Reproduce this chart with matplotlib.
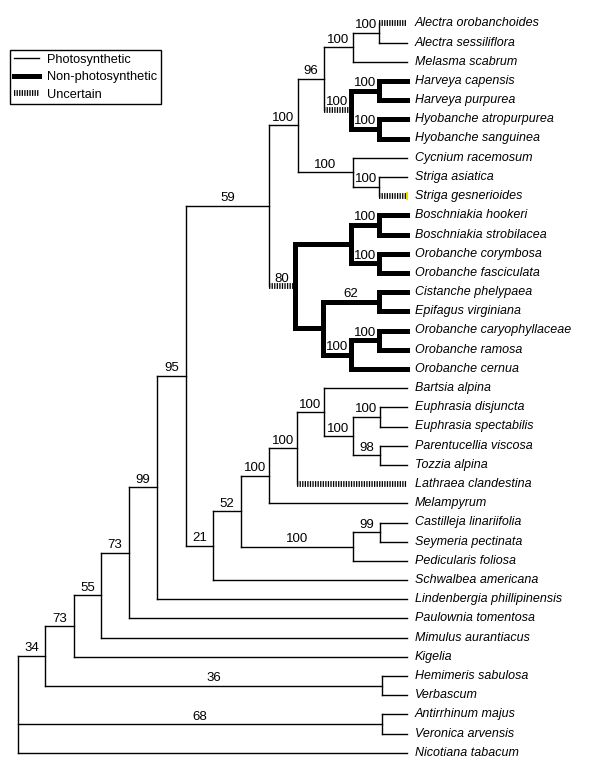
import matplotlib
matplotlib.use("Agg")
import matplotlib.pyplot as plt
from matplotlib.lines import Line2D

plt.rcParams['font.family'] = ['Liberation Sans', 'DejaVu Sans']

# leaves, top to bottom, with the state of the branch leading to each
# p = photosynthetic, n = non-photosynthetic, u = uncertain
leaves = ['Alectra orobanchoides', 'Alectra sessiliflora', 'Melasma scabrum',
          'Harveya capensis', 'Harveya purpurea', 'Hyobanche atropurpurea',
          'Hyobanche sanguinea', 'Cycnium racemosum', 'Striga asiatica',
          'Striga gesnerioides', 'Boschniakia hookeri', 'Boschniakia strobilacea',
          'Orobanche corymbosa', 'Orobanche fasciculata', 'Cistanche phelypaea',
          'Epifagus virginiana', 'Orobanche caryophyllaceae', 'Orobanche ramosa',
          'Orobanche cernua', 'Bartsia alpina', 'Euphrasia disjuncta',
          'Euphrasia spectabilis', 'Parentucellia viscosa', 'Tozzia alpina',
          'Lathraea clandestina', 'Melampyrum', 'Castilleja linariifolia',
          'Seymeria pectinata', 'Pedicularis foliosa', 'Schwalbea americana',
          'Lindenbergia phillipinensis', 'Paulownia tomentosa',
          'Mimulus aurantiacus', 'Kigelia', 'Hemimeris sabulosa', 'Verbascum',
          'Antirrhinum majus', 'Veronica arvensis', 'Nicotiana tabacum']
leaf_state = ['u', 'p', 'p', 'n', 'n', 'n', 'n', 'p', 'p', 'u',
              'n', 'n', 'n', 'n', 'n', 'n', 'n', 'n', 'n',
              'p', 'p', 'p', 'p', 'p', 'u', 'p', 'p', 'p', 'p', 'p',
              'p', 'p', 'p', 'p', 'p', 'p', 'p', 'p', 'p']

# internal nodes: children, depth (x), bootstrap, state of the branch into the node
children = {
    'root': ['n34', 'n68', 'Nicotiana tabacum'],
    'n34': ['n73a', 'nHem'],
    'n73a': ['n55', 'Kigelia'],
    'n55': ['n73b', 'Mimulus aurantiacus'],
    'n73b': ['n99', 'Paulownia tomentosa'],
    'n99': ['n95', 'Lindenbergia phillipinensis'],
    'n95': ['n59', 'n21'],
    'n59': ['n100a', 'nOro'],
    'n100a': ['n96', 'nCyc'],
    'n96': ['nAlMel', 'nHH'],
    'nAlMel': ['nAlec', 'Melasma scabrum'],
    'nAlec': ['Alectra orobanchoides', 'Alectra sessiliflora'],
    'nHH': ['nHarv', 'nHyo'],
    'nHarv': ['Harveya capensis', 'Harveya purpurea'],
    'nHyo': ['Hyobanche atropurpurea', 'Hyobanche sanguinea'],
    'nCyc': ['Cycnium racemosum', 'nStriga'],
    'nStriga': ['Striga asiatica', 'Striga gesnerioides'],
    'nOro': ['nBO', 'nCO'],
    'nBO': ['nBos', 'nOcf'],
    'nBos': ['Boschniakia hookeri', 'Boschniakia strobilacea'],
    'nOcf': ['Orobanche corymbosa', 'Orobanche fasciculata'],
    'nCO': ['nCE', 'nOrc'],
    'nCE': ['Cistanche phelypaea', 'Epifagus virginiana'],
    'nOrc': ['nOcr', 'Orobanche cernua'],
    'nOcr': ['Orobanche caryophyllaceae', 'Orobanche ramosa'],
    'n21': ['n52', 'Schwalbea americana'],
    'n52': ['n100b', 'n100c'],
    'n100b': ['n100d', 'Melampyrum'],
    'n100d': ['n100e', 'Lathraea clandestina'],
    'n100e': ['Bartsia alpina', 'n100f'],
    'n100f': ['nEuph', 'nPT'],
    'nEuph': ['Euphrasia disjuncta', 'Euphrasia spectabilis'],
    'nPT': ['Parentucellia viscosa', 'Tozzia alpina'],
    'n100c': ['nCS', 'Pedicularis foliosa'],
    'nCS': ['Castilleja linariifolia', 'Seymeria pectinata'],
    'nHem': ['Hemimeris sabulosa', 'Verbascum'],
    'n68': ['Antirrhinum majus', 'Veronica arvensis'],
}
node_x = {'root': 18, 'n34': 45, 'n73a': 74, 'n55': 101, 'n73b': 129, 'n99': 157,
          'n95': 186, 'n59': 269, 'n100a': 298, 'n96': 324, 'nAlMel': 353,
          'nAlec': 379, 'nHH': 351, 'nHarv': 379, 'nHyo': 379, 'nCyc': 353,
          'nStriga': 379, 'nOro': 295, 'nBO': 351, 'nBos': 379, 'nOcf': 379,
          'nCO': 323, 'nCE': 379, 'nOrc': 351, 'nOcr': 379, 'n21': 213,
          'n52': 241, 'n100b': 269, 'n100d': 297, 'n100e': 324, 'n100f': 353,
          'nEuph': 380, 'nPT': 380, 'n100c': 353, 'nCS': 380, 'nHem': 382,
          'n68': 382}
support = {'n34': '34', 'n73a': '73', 'n55': '55', 'n73b': '73', 'n99': '99',
           'n95': '95', 'n59': '59', 'n100a': '100', 'n96': '96', 'nAlMel': '100',
           'nAlec': '100', 'nHH': '100', 'nHarv': '100', 'nHyo': '100',
           'nCyc': '100', 'nStriga': '100', 'nOro': '80', 'nBos': '100',
           'nOcf': '100', 'nCE': '62', 'nOrc': '100', 'nOcr': '100', 'n21': '21',
           'n52': '52', 'n100b': '100', 'n100d': '100', 'n100e': '100',
           'n100f': '100', 'nEuph': '100', 'nPT': '98', 'n100c': '100',
           'nCS': '99', 'nHem': '36', 'n68': '68'}
node_state = {'nHH': 'u', 'nHarv': 'n', 'nHyo': 'n', 'nOro': 'u', 'nBO': 'n',
              'nBos': 'n', 'nOcf': 'n', 'nCO': 'n', 'nCE': 'n', 'nOrc': 'n',
              'nOcr': 'n'}

tip_x = 407
top_y, step = 23.3, 19.2

styles = {
    'p': dict(color='black', lw=1.0, solid_capstyle='projecting'),
    'n': dict(color='black', lw=3.6, solid_capstyle='projecting'),
    'u': dict(color='black', lw=4.2, linestyle=(0, (0.22, 0.22)), dash_capstyle='butt'),
}

fig = plt.figure(figsize=(6, 7.71), dpi=100)
ax = fig.add_axes([0, 0, 1, 1])
ax.set_xlim(0, 600)
ax.set_ylim(771, 0)
ax.axis('off')

pos = {}
state = {}
for i, name in enumerate(leaves):
    pos[name] = (tip_x, top_y + step * i)
    state[name] = leaf_state[i]


def layout(node):
    if node in pos:
        return pos[node]
    ys = [layout(c)[1] for c in children[node]]
    pos[node] = (node_x[node], (ys[0] + ys[-1]) / 2)
    return pos[node]


def clade_state(node):
    if node not in children:
        return state[node]
    sub = [clade_state(c) for c in children[node]]
    return 'n' if all(s == 'n' for s in sub) else 'p'


layout('root')

for node, kids in children.items():
    x, y = pos[node]
    ys = [pos[c][1] for c in kids]
    ax.plot([x, x], [min(ys), max(ys)], **styles[clade_state(node)], zorder=2)
    for c in kids:
        cx, cy = pos[c]
        st = state[c] if c in state else node_state.get(c, 'p')
        ax.plot([x, cx], [cy, cy], **styles[st], zorder=3 if st == 'n' else 2)
        if c in support:
            ax.text((x + cx) / 2, cy - 1.5, support[c], ha='center', va='bottom',
                    fontsize=9.5)

for name in leaves:
    x, y = pos[name]
    ax.text(x + 8, y, name, ha='left', va='center', fontsize=9.0, style='italic')

# small yellow mark at the Striga gesnerioides tip
sx, sy = pos['Striga gesnerioides']
ax.plot([sx, sx], [sy - 3, sy + 3], color='#f0e000', lw=1.5)

handles = [Line2D([], [], **styles['p']), Line2D([], [], **styles['n']),
           Line2D([], [], **styles['u'])]
leg = ax.legend(handles, ['Photosynthetic', 'Non-photosynthetic', 'Uncertain'],
                loc='upper left', bbox_to_anchor=(10 / 600, 1 - 50 / 771),
                borderaxespad=0, fontsize=9.2, fancybox=False, framealpha=1,
                edgecolor='black', handlelength=2.0, handletextpad=0.6,
                labelspacing=0.42, borderpad=0.3)
leg.get_frame().set_linewidth(1.0)

fig.savefig('out.png', dpi=100)
